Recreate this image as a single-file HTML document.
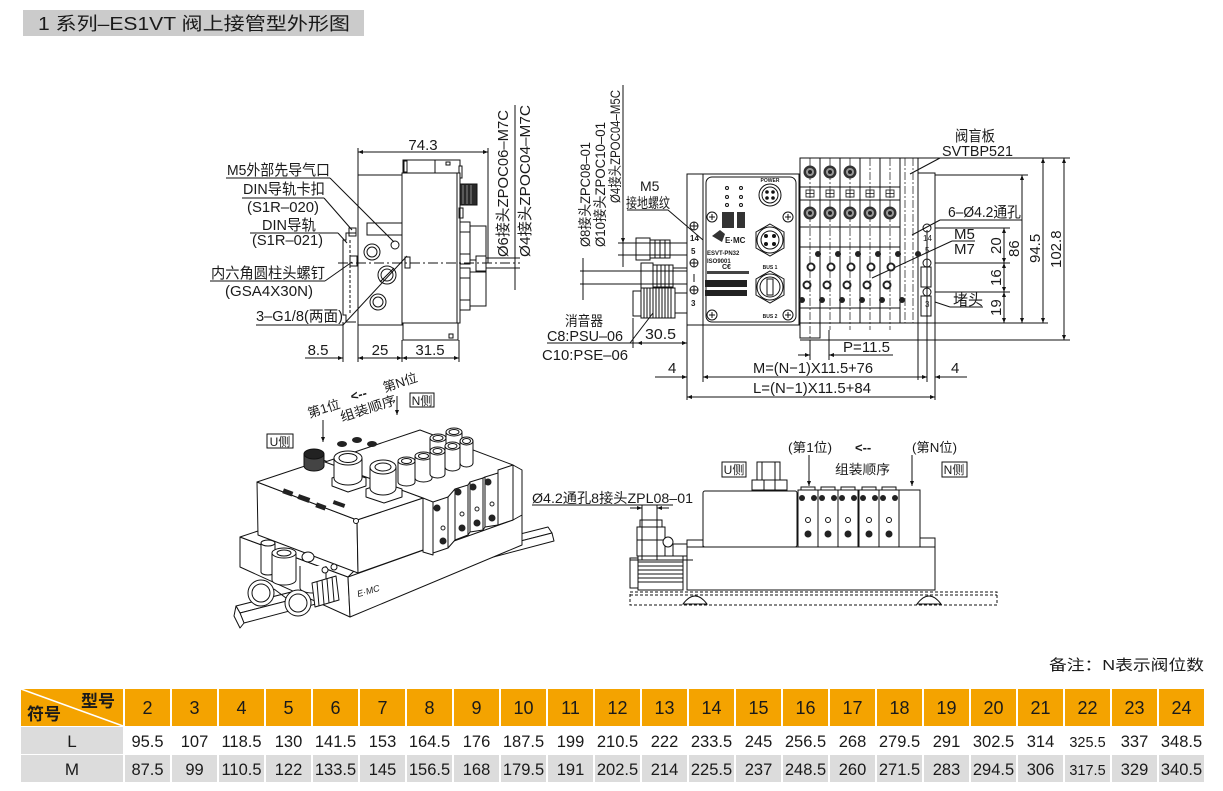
<!DOCTYPE html>
<html><head><meta charset="utf-8"><style>
html,body{margin:0;padding:0;background:#fff;}
svg{display:block}
text{font-family:"Liberation Sans","Noto Sans CJK SC",sans-serif;fill:#1a1a1a;}
</style></head><body>
<svg width="1223" height="791" viewBox="0 0 1223 791" xmlns="http://www.w3.org/2000/svg">
<defs>
<marker id="a" viewBox="0 0 10 10" refX="10" refY="5" markerWidth="7" markerHeight="5" orient="auto-start-reverse" markerUnits="userSpaceOnUse"><path d="M0,1 L10,5 L0,9z" fill="#111"/></marker>
</defs>

<!-- Title -->
<rect x="23" y="10" width="341" height="26" fill="#cbcbcb"/>
<text x="38" y="30" font-size="18" textLength="312" lengthAdjust="spacingAndGlyphs">1 系列–ES1VT 阀上接管型外形图</text>

<!-- ================= LEFT SIDE VIEW ================= -->
<g stroke="#111" stroke-width="1" fill="none">
  <rect x="403" y="160" width="57" height="13" fill="#fff"/>
  <line x1="435" y1="160" x2="435" y2="173"/>
  <rect x="404" y="161" width="3" height="11"/>
  <rect x="446" y="162" width="4" height="3"/>
  <rect x="459" y="166" width="3" height="12" fill="#fff"/>
  <rect x="402" y="173" width="58" height="150" fill="#fff"/>
  <line x1="457" y1="173" x2="457" y2="323"/>
  <rect x="358" y="175" width="44" height="150" fill="#fff"/>
  <rect x="403" y="323" width="55" height="17" fill="#fff"/>
  <rect x="449" y="334" width="4" height="4"/>
  <rect x="367" y="223" width="35" height="12"/>
  <circle cx="372" cy="252" r="8"/><circle cx="372" cy="252" r="5"/>
  <circle cx="387" cy="275" r="9"/><circle cx="387" cy="275" r="6"/>
  <line x1="380" y1="282" x2="394" y2="268"/>
  <circle cx="378" cy="302" r="8"/><circle cx="378" cy="302" r="5"/>
  <circle cx="395" cy="245" r="4"/>
  <rect x="405" y="257" width="5" height="11"/>
  <rect x="460" y="184" width="17" height="21" fill="#2a2a2a"/>
  <line x1="463" y1="185" x2="463" y2="204" stroke="#888"/>
  <line x1="467" y1="185" x2="467" y2="204" stroke="#888"/>
  <line x1="471" y1="185" x2="471" y2="204" stroke="#888"/>
  <rect x="459" y="208" width="4" height="10"/>
  <rect x="460" y="222" width="10" height="42" fill="#fff"/>
  <rect x="470" y="226" width="16" height="34" fill="#fff"/>
  <line x1="460" y1="232" x2="470" y2="232"/><line x1="460" y1="254" x2="470" y2="254"/>
  <rect x="460" y="268" width="10" height="42" fill="#fff"/>
  <rect x="470" y="272" width="16" height="34" fill="#fff"/>
  <line x1="460" y1="278" x2="470" y2="278"/><line x1="460" y1="300" x2="470" y2="300"/>
  <rect x="476" y="256" width="10" height="15" fill="#fff"/>
  <polyline points="356,233 346,233 346,240 343,240 343,315 346,315 346,322 356,322"/>
  <line x1="350" y1="240" x2="350" y2="315" stroke-dasharray="3,2"/>
  <rect x="349" y="228" width="7" height="8"/>
  <rect x="350" y="256" width="7" height="10"/>
  <line x1="338" y1="263" x2="520" y2="263" stroke-dasharray="10,3,2,3"/>
  <line x1="358" y1="148" x2="358" y2="175"/>
  <line x1="488" y1="148" x2="488" y2="263"/>
  <line x1="358" y1="152" x2="488" y2="152" marker-start="url(#a)" marker-end="url(#a)"/>
  <line x1="515" y1="105" x2="515" y2="290"/>
  <line x1="486" y1="258" x2="520" y2="258"/>
  <line x1="486" y1="268" x2="520" y2="268"/>
  <line x1="343" y1="322" x2="343" y2="362"/>
  <line x1="358" y1="325" x2="358" y2="362"/>
  <line x1="402" y1="340" x2="402" y2="362"/>
  <line x1="459" y1="340" x2="459" y2="362"/>
  <line x1="305" y1="358" x2="343" y2="358" marker-end="url(#a)"/>
  <line x1="358" y1="358" x2="402" y2="358" marker-start="url(#a)" marker-end="url(#a)"/>
  <line x1="402" y1="358" x2="459" y2="358" marker-start="url(#a)" marker-end="url(#a)"/>
  <line x1="226" y1="178" x2="330" y2="178"/><line x1="330" y1="178" x2="394" y2="242"/>
  <line x1="242" y1="198" x2="324" y2="198"/><line x1="324" y1="198" x2="352" y2="230"/>
  <line x1="250" y1="233" x2="338" y2="233"/><line x1="338" y1="233" x2="347" y2="243"/>
  <line x1="210" y1="281" x2="325" y2="281"/><line x1="325" y1="281" x2="352" y2="262"/>
  <line x1="256" y1="325" x2="343" y2="325"/><line x1="343" y1="325" x2="407" y2="256"/>
</g>
<g font-size="15">
  <text x="227" y="175" textLength="103" lengthAdjust="spacingAndGlyphs">M5外部先导气口</text>
  <text x="243" y="194" textLength="82" lengthAdjust="spacingAndGlyphs">DIN导轨卡扣</text>
  <text x="247" y="212" textLength="72" lengthAdjust="spacingAndGlyphs">(S1R–020)</text>
  <text x="262" y="230" textLength="54" lengthAdjust="spacingAndGlyphs">DIN导轨</text>
  <text x="252" y="245" textLength="71" lengthAdjust="spacingAndGlyphs">(S1R–021)</text>
  <text x="211" y="278" textLength="114" lengthAdjust="spacingAndGlyphs">内六角圆柱头螺钉</text>
  <text x="225" y="296" textLength="88" lengthAdjust="spacingAndGlyphs">(GSA4X30N)</text>
  <text x="256" y="321" textLength="87" lengthAdjust="spacingAndGlyphs">3–G1/8(两面)</text>
  <text x="423" y="150" text-anchor="middle">74.3</text>
  <text x="318" y="355" text-anchor="middle">8.5</text>
  <text x="380" y="355" text-anchor="middle">25</text>
  <text x="430" y="355" text-anchor="middle">31.5</text>
  <text transform="translate(508,257) rotate(-90)" textLength="147" lengthAdjust="spacingAndGlyphs">Ø6接头ZPOC06–M7C</text>
  <text transform="translate(530,257) rotate(-90)" textLength="152" lengthAdjust="spacingAndGlyphs">Ø4接头ZPOC04–M7C</text>
</g>

<!-- ================= MIDDLE FRONT VIEW ================= -->
<g stroke="#111" stroke-width="1" fill="none">
  <rect x="687" y="174" width="16" height="151" fill="#fff"/>
  <rect x="703" y="174" width="96" height="151" fill="#fff"/>
  <rect x="706" y="177" width="90" height="145" rx="6"/>
  <circle cx="712" cy="217" r="5"/><path d="M709,217h6M712,214v6"/>
  <circle cx="788" cy="217" r="5"/><path d="M785,217h6M788,214v6"/>
  <circle cx="712" cy="315" r="5"/><path d="M709,315h6M712,312v6"/>
  <circle cx="788" cy="315" r="5"/><path d="M785,315h6M788,312v6"/>
  <circle cx="770" cy="195" r="11"/><circle cx="770" cy="195" r="8"/>
  <circle cx="767" cy="192" r="1.3" fill="#111"/><circle cx="773" cy="192" r="1.3" fill="#111"/><circle cx="767" cy="198" r="1.3" fill="#111"/><circle cx="773" cy="198" r="1.3" fill="#111"/>
  <polygon points="770,224 784,232 784,248 770,256 756,248 756,232"/>
  <circle cx="770" cy="240" r="13"/><circle cx="770" cy="240" r="9"/>
  <circle cx="766" cy="236" r="1.5" fill="#111"/><circle cx="774" cy="236" r="1.5" fill="#111"/><circle cx="766" cy="244" r="1.5" fill="#111"/><circle cx="774" cy="244" r="1.5" fill="#111"/>
  <polygon points="770,271 784,279 784,295 770,303 756,295 756,279"/>
  <circle cx="770" cy="287" r="13"/><circle cx="770" cy="287" r="10"/>
  <rect x="767" y="279" width="6" height="16"/>
  <circle cx="727" cy="188" r="1.5"/><circle cx="741" cy="188" r="1.5"/>
  <circle cx="727" cy="197" r="1.5"/><circle cx="741" cy="197" r="1.5"/>
  <circle cx="727" cy="205" r="1.5"/><circle cx="741" cy="205" r="1.5"/>
  <circle cx="694" cy="226" r="4"/><circle cx="694" cy="263" r="4"/><circle cx="694" cy="290" r="4"/>
  <path d="M690,226h8M694,222v8M690,263h8M694,259v8M690,290h8M694,286v8"/>
  <line x1="694" y1="274" x2="694" y2="282"/>
  <rect x="636" y="238" width="14" height="22" fill="#fff"/>
  <rect x="650" y="240" width="20" height="18" fill="#fff"/>
  <rect x="670" y="243" width="17" height="12" fill="#fff"/>
  <path d="M655,240v18M660,240v18M665,240v18"/>
  <rect x="641" y="263" width="12" height="26" fill="#fff"/>
  <rect x="653" y="265" width="20" height="22" fill="#fff"/>
  <rect x="673" y="268" width="14" height="16" fill="#fff"/>
  <path d="M657,265v22M661,265v22M665,265v22M669,265v22"/>
  <rect x="633" y="291" width="8" height="25" fill="#fff"/>
  <rect x="641" y="288" width="34" height="30" fill="#fff"/>
  <path d="M644,288v30M647,288v30M650,288v30M653,288v30M656,288v30M659,288v30M662,288v30M665,288v30M668,288v30M671,288v30"/>
  <rect x="675" y="293" width="12" height="20" fill="#fff"/>
  <line x1="623" y1="85" x2="623" y2="267"/>
  <line x1="618" y1="243" x2="687" y2="243"/>
  <line x1="618" y1="255" x2="687" y2="255"/>
  <line x1="623" y1="232" x2="623" y2="243" marker-end="url(#a)"/>
  <line x1="580" y1="271" x2="687" y2="271"/>
  <line x1="580" y1="284" x2="687" y2="284"/>
  <line x1="583" y1="258" x2="583" y2="300"/>
  <line x1="633" y1="318" x2="633" y2="348"/>
  <line x1="547" y1="343" x2="637" y2="343"/>
  <line x1="637" y1="343" x2="687" y2="343" marker-start="url(#a)" marker-end="url(#a)"/>
  <line x1="630" y1="343" x2="653" y2="313"/>
  <line x1="627" y1="210" x2="668" y2="210"/><line x1="668" y1="210" x2="703" y2="240"/>
  <line x1="687" y1="325" x2="687" y2="400"/>
  <line x1="703" y1="325" x2="703" y2="382"/>
  <line x1="655" y1="377" x2="687" y2="377" marker-end="url(#a)"/>
  <line x1="703" y1="377" x2="927" y2="377" marker-start="url(#a)" marker-end="url(#a)"/>
  <line x1="967" y1="377" x2="935" y2="377" marker-end="url(#a)"/>
  <line x1="687" y1="397" x2="935" y2="397" marker-start="url(#a)" marker-end="url(#a)"/>
</g>
<rect x="722" y="212" width="12" height="16" fill="#333"/>
<rect x="737" y="212" width="8" height="16" fill="#333"/>
<rect x="705" y="280" width="42" height="7" fill="#222"/>
<rect x="705" y="290" width="42" height="6" fill="#222"/>
<rect x="707" y="271" width="42" height="3" fill="#444"/>
<path d="M712,236 l8,-6 l5,4 l-3,8 z" fill="#333"/>
<g font-size="5" font-weight="bold">
  <text x="770" y="182" text-anchor="middle">POWER</text>
  <text x="707" y="255" font-size="6">ESVT-PN32</text>
  <text x="707" y="263" font-size="6">ISO9001</text>
  <text x="722" y="269" font-size="7">C€</text>
  <text x="770" y="269" text-anchor="middle">BUS 1</text>
  <text x="770" y="318" text-anchor="middle">BUS 2</text>
  <text x="725" y="243" font-size="8" font-family="Liberation Serif">E·MC</text>
  <text x="690" y="241" font-size="8">14</text>
  <text x="691" y="254" font-size="8">5</text>
  <text x="691" y="306" font-size="8">3</text>
</g>
<g font-size="14">
  <text x="640" y="191">M5</text>
  <text x="626" y="208" textLength="44" lengthAdjust="spacingAndGlyphs">接地螺纹</text>
  <text x="565" y="326" textLength="38" lengthAdjust="spacingAndGlyphs">消音器</text>
  <text x="547" y="341" font-size="15" textLength="76" lengthAdjust="spacingAndGlyphs">C8:PSU–06</text>
  <text x="542" y="360" font-size="15" textLength="86" lengthAdjust="spacingAndGlyphs">C10:PSE–06</text>
  <text x="645" y="339" font-size="15" textLength="31" lengthAdjust="spacingAndGlyphs">30.5</text>
  <text x="668" y="373" font-size="15">4</text>
  <text x="951" y="373" font-size="15">4</text>
  <text x="753" y="373" font-size="15" textLength="120" lengthAdjust="spacingAndGlyphs">M=(N−1)X11.5+76</text>
  <text x="753" y="393" font-size="15" textLength="118" lengthAdjust="spacingAndGlyphs">L=(N−1)X11.5+84</text>
  <text x="843" y="352" font-size="15" textLength="47" lengthAdjust="spacingAndGlyphs">P=11.5</text>
  <text transform="translate(590,247) rotate(-90)" textLength="105" lengthAdjust="spacingAndGlyphs">Ø8接头ZPC08–01</text>
  <text transform="translate(605,247) rotate(-90)" textLength="125" lengthAdjust="spacingAndGlyphs">Ø10接头ZPOC10–01</text>
  <text transform="translate(620,203) rotate(-90)" textLength="113" lengthAdjust="spacingAndGlyphs">Ø4接头ZPOC04–M5C</text>
</g>

<!-- ================= RIGHT: VALVES ================= -->
<g stroke="#111" stroke-width="1" fill="none">
  <rect x="800" y="158" width="118" height="165" fill="#fff"/>
  <path d="M820,158V323M840,158V323M860,158V323M880,158V323M900,158V323"/>
  <path d="M800,187H900M800,200H900M800,227H900M800,247H900M800,308H900"/>
  <path d="M810,158V345M830,158V330M850,158V330M870,158V330M890,158V330M905,158V323M913,158V323" stroke-dasharray="8,2,2,2" stroke-width="0.7"/>
  <rect x="800" y="323" width="20" height="15"/>
  <line x1="800" y1="340" x2="1070" y2="340"/>
  <line x1="918" y1="158" x2="1070" y2="158"/>
  <rect x="918" y="173" width="17" height="150" fill="#fff"/>
  <line x1="918" y1="323" x2="918" y2="380"/>
  <line x1="927" y1="230" x2="927" y2="382"/>
  <line x1="935" y1="323" x2="935" y2="400"/>
  <circle cx="927" cy="228" r="4"/><circle cx="927" cy="263" r="4"/><circle cx="927" cy="292" r="4"/>
  <rect x="921" y="267" width="10" height="20"/>
  <rect x="921" y="296" width="10" height="20"/>
  <path d="M935,175H1028M935,228H1010M935,263H1010M935,292H1010M935,323H1048"/>
  <line x1="1064" y1="158" x2="1064" y2="340" marker-start="url(#a)" marker-end="url(#a)"/>
  <line x1="1043" y1="158" x2="1043" y2="323" marker-start="url(#a)" marker-end="url(#a)"/>
  <line x1="1022" y1="175" x2="1022" y2="323" marker-start="url(#a)" marker-end="url(#a)"/>
  <line x1="1004" y1="228" x2="1004" y2="263" marker-start="url(#a)" marker-end="url(#a)"/>
  <line x1="1004" y1="263" x2="1004" y2="292" marker-start="url(#a)" marker-end="url(#a)"/>
  <line x1="1004" y1="292" x2="1004" y2="323" marker-start="url(#a)" marker-end="url(#a)"/>
  <line x1="810" y1="340" x2="810" y2="360"/><line x1="829" y1="330" x2="829" y2="360"/>
  <line x1="798" y1="355" x2="810" y2="355" marker-end="url(#a)"/>
  <line x1="829" y1="355" x2="893" y2="355" marker-start="url(#a)"/>
  <line x1="940" y1="158" x2="1013" y2="158"/><line x1="940" y1="158" x2="910" y2="174"/>
  <line x1="940" y1="220" x2="1022" y2="220"/><line x1="940" y1="220" x2="912" y2="235"/>
  <line x1="952" y1="241" x2="975" y2="241"/><line x1="952" y1="241" x2="872" y2="278"/>
  <line x1="950" y1="307" x2="983" y2="307"/><line x1="950" y1="307" x2="935" y2="302"/>
</g>
<g>
  <g fill="#333"><circle cx="810" cy="172" r="6.5"/><circle cx="830" cy="172" r="6.5"/><circle cx="850" cy="172" r="6.5"/>
  <circle cx="810" cy="213" r="6.5"/><circle cx="830" cy="213" r="6.5"/><circle cx="850" cy="213" r="6.5"/><circle cx="870" cy="213" r="6.5"/><circle cx="890" cy="213" r="6.5"/></g>
  <g fill="#999"><circle cx="810" cy="172" r="4"/><circle cx="830" cy="172" r="4"/><circle cx="850" cy="172" r="4"/>
  <circle cx="810" cy="213" r="4"/><circle cx="830" cy="213" r="4"/><circle cx="850" cy="213" r="4"/><circle cx="870" cy="213" r="4"/><circle cx="890" cy="213" r="4"/></g>
  <g fill="#222"><circle cx="810" cy="172" r="2"/><circle cx="830" cy="172" r="2"/><circle cx="850" cy="172" r="2"/>
  <circle cx="810" cy="213" r="2"/><circle cx="830" cy="213" r="2"/><circle cx="850" cy="213" r="2"/><circle cx="870" cy="213" r="2"/><circle cx="890" cy="213" r="2"/></g>
  <g stroke="#111" fill="none" stroke-width="0.8">
    <rect x="806" y="190" width="8" height="7"/><path d="M810,190v7M806,193.5h8"/>
    <rect x="826" y="190" width="8" height="7"/><path d="M830,190v7M826,193.5h8"/>
    <rect x="846" y="190" width="8" height="7"/><path d="M850,190v7M846,193.5h8"/>
    <rect x="866" y="190" width="8" height="7"/><path d="M870,190v7M866,193.5h8"/>
    <rect x="886" y="190" width="8" height="7"/><path d="M890,190v7M886,193.5h8"/>
  </g>
  <g fill="#222"><circle cx="818" cy="254" r="3"/><circle cx="838" cy="254" r="3"/><circle cx="858" cy="254" r="3"/><circle cx="878" cy="254" r="3"/><circle cx="898" cy="254" r="3"/><circle cx="918" cy="254" r="3"/>
  <circle cx="802" cy="300" r="3"/><circle cx="822" cy="300" r="3"/><circle cx="842" cy="300" r="3"/><circle cx="862" cy="300" r="3"/><circle cx="882" cy="300" r="3"/><circle cx="902" cy="300" r="3"/></g>
  <g fill="#fff" stroke="#222" stroke-width="2"><circle cx="811" cy="267" r="3.5"/><circle cx="831" cy="267" r="3.5"/><circle cx="851" cy="267" r="3.5"/><circle cx="871" cy="267" r="3.5"/><circle cx="891" cy="267" r="3.5"/>
  <circle cx="807" cy="285" r="3.5"/><circle cx="827" cy="285" r="3.5"/><circle cx="847" cy="285" r="3.5"/><circle cx="867" cy="285" r="3.5"/><circle cx="887" cy="285" r="3.5"/></g>
</g>
<g font-size="8"><text x="923" y="241">14</text><text x="925" y="253">5</text><text x="925" y="307">3</text></g>
<g font-size="15">
  <text x="955" y="141" textLength="40" lengthAdjust="spacingAndGlyphs">阀盲板</text>
  <text x="942" y="156" textLength="71" lengthAdjust="spacingAndGlyphs">SVTBP521</text>
  <text x="948" y="217" textLength="73" lengthAdjust="spacingAndGlyphs">6–Ø4.2通孔</text>
  <text x="954" y="239">M5</text>
  <text x="954" y="254">M7</text>
  <text x="953" y="305" textLength="30" lengthAdjust="spacingAndGlyphs">堵头</text>
  <text transform="translate(1061,268) rotate(-90)">102.8</text>
  <text transform="translate(1040,263) rotate(-90)">94.5</text>
  <text transform="translate(1019,257) rotate(-90)">86</text>
  <text transform="translate(1001,254) rotate(-90)">20</text>
  <text transform="translate(1001,286) rotate(-90)">16</text>
  <text transform="translate(1001,316) rotate(-90)">19</text>
</g>

<!-- ================= 3D VIEW ================= -->
<g stroke="#111" stroke-width="1" fill="#fff" stroke-linejoin="round">
  <!-- rail -->
  <polygon points="236,606 548,527 552,533 240,613"/>
  <polygon points="240,613 552,533 554,541 244,623"/>
  <polygon points="236,606 240,613 244,623 240,628 234,616"/>
  <!-- base -->
  <polygon points="240,537 348,577 350,617 240,567"/>
  <polygon points="348,577 522,515 522,545 350,617"/>
  <polygon points="240,537 258,531 357,568 348,577"/>
  <!-- module -->
  <polygon points="257,482 357,520 358,573 258,535"/>
  <polygon points="357,520 423,498 423,550 358,573"/>
  <polygon points="257,482 357,520 423,498 323,460"/>
  <circle cx="356" cy="521" r="2.5"/>
  <!-- valves stack background -->
  <polygon points="423,498 325,462 420,430 513,465 513,520 423,552"/>
  <polygon points="513,465 522,470 522,515 513,520"/>
  <polygon points="498,470 513,465 513,520 498,525"/>
  <!-- valve slabs -->
  <polygon points="423,498 433,502 433,555 423,552"/>
  <polygon points="433,502 448,497 448,548 433,553"/>
  <polygon points="448,497 455,489 455,540 448,548"/>
  <polygon points="455,489 468,485 468,535 455,540"/>
  <polygon points="468,485 470,482 470,532 468,535"/>
  <polygon points="470,482 483,478 483,530 470,532"/>
  <polygon points="483,478 485,477 485,527 483,530"/>
  <polygon points="485,477 498,473 498,525 485,527"/>
  <!-- back cylinders -->
  <path d="M430,438 V452 A8,4 0 0 0 446,452 V438"/><ellipse cx="438" cy="438" rx="8" ry="4"/><ellipse cx="438" cy="438" rx="5" ry="2.5"/>
  <path d="M446,432 V447 A8,4 0 0 0 462,447 V432"/><ellipse cx="454" cy="432" rx="8" ry="4"/><ellipse cx="454" cy="432" rx="5" ry="2.5"/>
  <!-- front cylinders -->
  <path d="M398,461 V482 A8.5,4 0 0 0 415,482 V461"/><ellipse cx="406.5" cy="461" rx="8.5" ry="4"/><ellipse cx="406.5" cy="461" rx="5" ry="2.5"/>
  <path d="M415,456 V478 A8.5,4 0 0 0 432,478 V456"/><ellipse cx="423.5" cy="456" rx="8.5" ry="4"/><ellipse cx="423.5" cy="456" rx="5" ry="2.5"/>
  <path d="M430,451 V474 A7.5,4 0 0 0 445,474 V451"/><ellipse cx="437.5" cy="451" rx="7.5" ry="4"/><ellipse cx="437.5" cy="451" rx="4.5" ry="2.5"/>
  <path d="M445,446 V467 A7.5,4 0 0 0 460,467 V446"/><ellipse cx="452.5" cy="446" rx="7.5" ry="4"/><ellipse cx="452.5" cy="446" rx="4.5" ry="2.5"/>
  <path d="M460,441 V463 A6.5,4 0 0 0 473,463 V441"/><ellipse cx="466.5" cy="441" rx="6.5" ry="4"/><ellipse cx="466.5" cy="441" rx="4" ry="2.5"/>
  <!-- module connectors -->
  <path d="M304,454 V466 A10,5 0 0 0 324,466 V454" fill="#444"/><ellipse cx="314" cy="454" rx="10" ry="5" fill="#222"/>
  <polygon points="332,478 348,472 366,478 366,486 348,492 332,486"/>
  <path d="M334,458 V478 A14,7 0 0 0 362,478 V458"/><ellipse cx="348" cy="458" rx="14" ry="7"/><ellipse cx="348" cy="458" rx="9" ry="4.5"/>
  <polygon points="366,489 384,483 402,489 402,497 384,503 366,497"/>
  <path d="M370,467 V488 A13,7 0 0 0 396,488 V467"/><ellipse cx="383" cy="467" rx="13" ry="7"/><ellipse cx="383" cy="467" rx="8" ry="4"/>
  <!-- left end fittings -->
  <path d="M261,543 V572 A7,3 0 0 0 275,572 V543"/><ellipse cx="268" cy="543" rx="7" ry="3"/>
  <path d="M300,566 V588 A13,5 0 0 0 326,588 V566"/>
  <path d="M272,553 V580 A12,5 0 0 0 296,580 V553"/><ellipse cx="284" cy="553" rx="12" ry="5"/><ellipse cx="284" cy="553" rx="7" ry="3"/>
  <ellipse cx="308" cy="557" rx="6" ry="5"/>
  <polygon points="312,583 336,576 339,600 315,607"/>
  <path d="M317,582 l2,24 M322,580 l2,24 M327,579 l2,24 M332,577 l2,24" fill="none"/>
  <circle cx="261" cy="593" r="13"/><circle cx="261" cy="593" r="9"/>
  <circle cx="298" cy="603" r="13"/><circle cx="298" cy="603" r="9"/>
  <line x1="274" y1="589" x2="286" y2="598" fill="none"/>
  <circle cx="325" cy="570" r="3"/><circle cx="334" cy="567" r="3"/>
</g>
<g fill="#222">
  <circle cx="437" cy="508" r="3.5"/><circle cx="443" cy="541" r="3.5"/>
  <circle cx="458" cy="492" r="3.5"/><circle cx="462" cy="528" r="3.5"/>
  <circle cx="473" cy="487" r="3.5"/><circle cx="477" cy="523" r="3.5"/>
  <circle cx="488" cy="482" r="3.5"/><circle cx="492" cy="518" r="3.5"/>
  <ellipse cx="342" cy="444" rx="5" ry="3"/><ellipse cx="357" cy="440" rx="5" ry="3"/><ellipse cx="372" cy="444" rx="5" ry="3"/>
  <rect x="283" y="490" width="10" height="5" transform="rotate(20 288 492)"/>
  <rect x="298" y="496" width="12" height="5" transform="rotate(20 304 498)"/>
  <rect x="316" y="504" width="10" height="5" transform="rotate(20 321 506)"/>
  <rect x="333" y="502" width="12" height="4" transform="rotate(20 339 504)"/>
</g>
<g fill="none" stroke="#222" stroke-width="1"><circle cx="443" cy="528" r="2"/><circle cx="462" cy="514" r="2"/><circle cx="477" cy="509" r="2"/><circle cx="492" cy="504" r="2"/></g>
<text x="357" y="595" font-size="9" font-family="Liberation Serif" font-style="italic" transform="rotate(-16 365 592)">E·MC</text>
<g font-size="13">
  <text x="324" y="413" text-anchor="middle" transform="rotate(-18 324 409)">第1位</text>
  <text x="359" y="399" text-anchor="middle" font-weight="bold" transform="rotate(-15 359 396)">&lt;--</text>
  <text x="400" y="387" text-anchor="middle" transform="rotate(-18 400 382)">第N位</text>
  <text x="368" y="413" text-anchor="middle" textLength="58" lengthAdjust="spacingAndGlyphs" transform="rotate(-18 368 408)">组装顺序</text>
  <text x="422" y="405" text-anchor="middle" font-size="12">N侧</text>
  <text x="280" y="446" text-anchor="middle" font-size="12">U侧</text>
</g>
<g stroke="#111" fill="none">
  <rect x="410" y="393" width="24" height="14"/>
  <rect x="267" y="434" width="26" height="14"/>
  <line x1="323" y1="420" x2="323" y2="442" marker-end="url(#a)"/>
  <line x1="397" y1="396" x2="397" y2="415" marker-end="url(#a)"/>
</g>

<!-- ================= BOTTOM-RIGHT FRONT VIEW ================= -->
<g stroke="#111" stroke-width="1" fill="#fff">
  <rect x="630" y="592" width="367" height="13" fill="none" stroke-dasharray="3,2"/>
  <line x1="630" y1="595" x2="997" y2="595" stroke-dasharray="3,2"/>
  <path d="M683,604 Q695,588 707,604 Z"/>
  <path d="M917,604 Q929,588 941,604 Z"/>
  <rect x="687" y="547" width="248" height="43"/>
  <rect x="687" y="540" width="16" height="7"/>
  <rect x="920" y="538" width="15" height="9"/>
  <rect x="703" y="491" width="94" height="56" rx="2"/>
  <rect x="757" y="462" width="23" height="18"/>
  <path d="M762,462V480M775,462V480" fill="none"/>
  <rect x="752" y="480" width="35" height="10"/>
  <path d="M764,480V490M775,480V490" fill="none"/>
  <rect x="801" y="487" width="14" height="3"/><rect x="798" y="490" width="20" height="57"/>
  <rect x="821" y="487" width="14" height="3"/><rect x="818" y="490" width="20" height="57"/>
  <rect x="841" y="487" width="14" height="3"/><rect x="838" y="490" width="20" height="57"/>
  <rect x="862" y="487" width="14" height="3"/><rect x="859" y="490" width="20" height="57"/>
  <rect x="882" y="487" width="14" height="3"/><rect x="879" y="490" width="20" height="57"/>
  <rect x="899" y="490" width="21" height="57"/>
  <circle cx="808" cy="520" r="2.5"/><circle cx="828" cy="520" r="2.5"/><circle cx="848" cy="520" r="2.5"/><circle cx="869" cy="520" r="2.5"/><circle cx="889" cy="520" r="2.5"/>
  <rect x="630" y="558" width="8" height="30"/>
  <rect x="638" y="556" width="45" height="34"/>
  <path d="M638,562H683M638,566H683M638,570H683M638,574H683M638,578H683M638,582H683" fill="none"/>
  <rect x="637" y="527" width="28" height="29"/>
  <rect x="640" y="520" width="22" height="7"/>
  <path d="M637,540H665" fill="none"/>
  <circle cx="668" cy="542" r="5"/>
  <rect x="673" y="544" width="14" height="12"/>
  <line x1="630" y1="560" x2="693" y2="560" fill="none"/>
  <line x1="642" y1="505" x2="642" y2="560" fill="none"/>
  <line x1="657" y1="505" x2="657" y2="560" fill="none"/>
  <line x1="631" y1="505" x2="673" y2="505" fill="none"/>
  <line x1="630" y1="508" x2="642" y2="508" marker-end="url(#a)" fill="none"/>
  <line x1="669" y1="508" x2="657" y2="508" marker-end="url(#a)" fill="none"/>
  <line x1="532" y1="505" x2="631" y2="505" fill="none"/>
  <line x1="809" y1="455" x2="809" y2="486" marker-end="url(#a)" fill="none"/>
  <line x1="912" y1="455" x2="912" y2="486" marker-end="url(#a)" fill="none"/>
  <rect x="722" y="462" width="24" height="15" fill="none"/>
  <rect x="942" y="462" width="25" height="15" fill="none"/>
</g>
<g fill="#222">
  <circle cx="802" cy="498" r="3"/><circle cx="814" cy="498" r="3"/><circle cx="822" cy="498" r="3"/><circle cx="834" cy="498" r="3"/>
  <circle cx="842" cy="498" r="3"/><circle cx="854" cy="498" r="3"/><circle cx="863" cy="498" r="3"/><circle cx="875" cy="498" r="3"/>
  <circle cx="883" cy="498" r="3"/><circle cx="895" cy="498" r="3"/>
  <circle cx="808" cy="534" r="3.5"/><circle cx="828" cy="534" r="3.5"/><circle cx="848" cy="534" r="3.5"/><circle cx="869" cy="534" r="3.5"/><circle cx="889" cy="534" r="3.5"/>
</g>
<g font-size="14">
  <text x="532" y="503" textLength="161" lengthAdjust="spacingAndGlyphs">Ø4.2通孔8接头ZPL08–01</text>
  <text x="788" y="452" font-size="13" textLength="44" lengthAdjust="spacingAndGlyphs">(第1位)</text>
  <text x="855" y="452" font-size="13" font-weight="bold">&lt;--</text>
  <text x="912" y="452" font-size="13" textLength="45" lengthAdjust="spacingAndGlyphs">(第N位)</text>
  <text x="835" y="474" font-size="13" textLength="55" lengthAdjust="spacingAndGlyphs">组装顺序</text>
  <text x="734" y="474" font-size="12" text-anchor="middle">U侧</text>
  <text x="954" y="474" font-size="12" text-anchor="middle">N侧</text>
</g>

<!-- ================= NOTE + TABLE ================= -->
<text x="1049" y="670" font-size="15" textLength="155" lengthAdjust="spacingAndGlyphs">备注：N表示阀位数</text>

<rect x="21" y="689" width="102" height="37" fill="#f4a300"/>
<line x1="21" y1="689" x2="123" y2="726" stroke="#fff" stroke-width="1.5"/>
<rect x="21" y="727" width="102" height="27" fill="#dcdcdc"/>
<rect x="21" y="755" width="102" height="27" fill="#dcdcdc"/>
<g fill="#f4a300">
<rect x="125" y="689" width="45" height="37"/><rect x="172" y="689" width="45" height="37"/><rect x="219" y="689" width="45" height="37"/><rect x="266" y="689" width="45" height="37"/><rect x="313" y="689" width="45" height="37"/><rect x="360" y="689" width="45" height="37"/><rect x="407" y="689" width="45" height="37"/><rect x="454" y="689" width="45" height="37"/><rect x="501" y="689" width="45" height="37"/><rect x="548" y="689" width="45" height="37"/><rect x="595" y="689" width="45" height="37"/><rect x="642" y="689" width="45" height="37"/><rect x="689" y="689" width="45" height="37"/><rect x="736" y="689" width="45" height="37"/><rect x="783" y="689" width="45" height="37"/><rect x="830" y="689" width="45" height="37"/><rect x="877" y="689" width="45" height="37"/><rect x="924" y="689" width="45" height="37"/><rect x="971" y="689" width="45" height="37"/><rect x="1018" y="689" width="45" height="37"/><rect x="1065" y="689" width="45" height="37"/><rect x="1112" y="689" width="45" height="37"/><rect x="1159" y="689" width="45" height="37"/>
</g>
<g fill="#dcdcdc">
<rect x="125" y="755" width="45" height="27"/><rect x="172" y="755" width="45" height="27"/><rect x="219" y="755" width="45" height="27"/><rect x="266" y="755" width="45" height="27"/><rect x="313" y="755" width="45" height="27"/><rect x="360" y="755" width="45" height="27"/><rect x="407" y="755" width="45" height="27"/><rect x="454" y="755" width="45" height="27"/><rect x="501" y="755" width="45" height="27"/><rect x="548" y="755" width="45" height="27"/><rect x="595" y="755" width="45" height="27"/><rect x="642" y="755" width="45" height="27"/><rect x="689" y="755" width="45" height="27"/><rect x="736" y="755" width="45" height="27"/><rect x="783" y="755" width="45" height="27"/><rect x="830" y="755" width="45" height="27"/><rect x="877" y="755" width="45" height="27"/><rect x="924" y="755" width="45" height="27"/><rect x="971" y="755" width="45" height="27"/><rect x="1018" y="755" width="45" height="27"/><rect x="1065" y="755" width="45" height="27"/><rect x="1112" y="755" width="45" height="27"/><rect x="1159" y="755" width="45" height="27"/>
</g>
<text x="81" y="707" font-size="17" font-weight="bold">型号</text>
<text x="27" y="720" font-size="17" font-weight="bold">符号</text>
<text x="72" y="747" font-size="17" text-anchor="middle">L</text>
<text x="72" y="775" font-size="17" text-anchor="middle">M</text>
<g font-size="18" text-anchor="middle">
<text x="147.5" y="714">2</text><text x="194.5" y="714">3</text><text x="241.5" y="714">4</text><text x="288.5" y="714">5</text><text x="335.5" y="714">6</text><text x="382.5" y="714">7</text><text x="429.5" y="714">8</text><text x="476.5" y="714">9</text><text x="523.5" y="714">10</text><text x="570.5" y="714">11</text><text x="617.5" y="714">12</text><text x="664.5" y="714">13</text><text x="711.5" y="714">14</text><text x="758.5" y="714">15</text><text x="805.5" y="714">16</text><text x="852.5" y="714">17</text><text x="899.5" y="714">18</text><text x="946.5" y="714">19</text><text x="993.5" y="714">20</text><text x="1040.5" y="714">21</text><text x="1087.5" y="714">22</text><text x="1134.5" y="714">23</text><text x="1181.5" y="714">24</text>
</g>
<g font-size="16.5" text-anchor="middle">
<text x="147.5" y="747">95.5</text><text x="194.5" y="747">107</text><text x="241.5" y="747">118.5</text><text x="288.5" y="747">130</text><text x="335.5" y="747">141.5</text><text x="382.5" y="747">153</text><text x="429.5" y="747">164.5</text><text x="476.5" y="747">176</text><text x="523.5" y="747">187.5</text><text x="570.5" y="747">199</text><text x="617.5" y="747">210.5</text><text x="664.5" y="747">222</text><text x="711.5" y="747">233.5</text><text x="758.5" y="747">245</text><text x="805.5" y="747">256.5</text><text x="852.5" y="747">268</text><text x="899.5" y="747">279.5</text><text x="946.5" y="747">291</text><text x="993.5" y="747">302.5</text><text x="1040.5" y="747">314</text><text x="1087.5" y="747" font-size="14.5">325.5</text><text x="1134.5" y="747">337</text><text x="1181.5" y="747">348.5</text>
<text x="147.5" y="775">87.5</text><text x="194.5" y="775">99</text><text x="241.5" y="775">110.5</text><text x="288.5" y="775">122</text><text x="335.5" y="775">133.5</text><text x="382.5" y="775">145</text><text x="429.5" y="775">156.5</text><text x="476.5" y="775">168</text><text x="523.5" y="775">179.5</text><text x="570.5" y="775">191</text><text x="617.5" y="775">202.5</text><text x="664.5" y="775">214</text><text x="711.5" y="775">225.5</text><text x="758.5" y="775">237</text><text x="805.5" y="775">248.5</text><text x="852.5" y="775">260</text><text x="899.5" y="775">271.5</text><text x="946.5" y="775">283</text><text x="993.5" y="775">294.5</text><text x="1040.5" y="775">306</text><text x="1087.5" y="775" font-size="14.5">317.5</text><text x="1134.5" y="775">329</text><text x="1181.5" y="775">340.5</text>
</g>
</svg>
</body></html>
